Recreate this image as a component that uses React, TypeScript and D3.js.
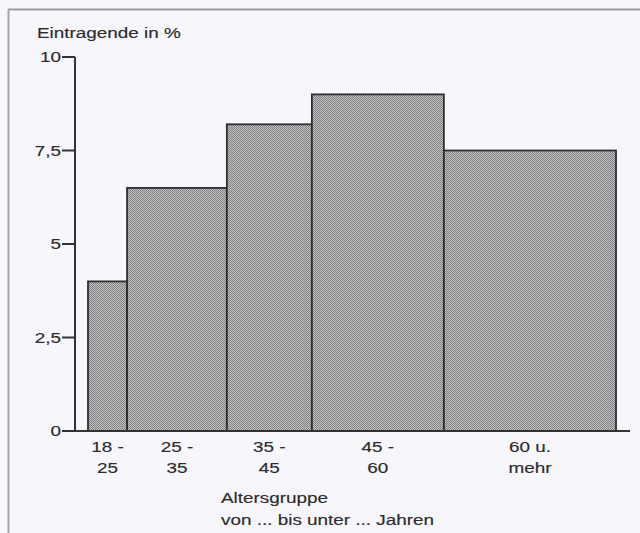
import React from "react";
import * as d3 from "d3";

const categories = ["18 -|25", "25 -|35", "35 -|45", "45 -|60", "60 u.|mehr"];
const values = [4.0, 6.5, 8.2, 9.0, 7.5];
const binWidths = [0.74, 1.89, 1.61, 2.5, 3.26];
const yTicks = [0, 2.5, 5, 7.5, 10];
const yTickLabels = ["0", "2,5", "5", "7,5", "10"];
const yTitle = "Eintragende in %";
const xTitle = ["Altersgruppe", "von ... bis unter ... Jahren"];

const W = 640;
const H = 533;
const SX = 1.26;
const FONT = "'Liberation Sans', Arial, sans-serif";
const TXT = "#2b2b2b";

function SText({ x, y, anchor = "start", children, size = 15 }: any) {
  return (
    <text
      transform={`translate(${x},${y}) scale(${SX},1)`}
      textAnchor={anchor}
      fontFamily={FONT}
      fontSize={size}
      fill={TXT}
      stroke={TXT}
      strokeWidth={0.15}
    >
      {children}
    </text>
  );
}

export default function App() {
  const edges = [0];
  binWidths.forEach((w) => edges.push(edges[edges.length - 1] + w));
  const x = d3.scaleLinear().domain([0, d3.sum(binWidths)]).range([88, 616]);
  const y = d3.scaleLinear().domain([0, 10]).range([431, 57]);
  const axisX = 75;

  return (
    <svg
      width={W}
      height={H}
      style={{ position: "absolute", left: 0, top: 0, display: "block" }}
    >
      <defs>
        <pattern id="dots" width={2} height={2} patternUnits="userSpaceOnUse">
          <rect width={2} height={2} fill="#c2c2c4" />
          <rect width={1} height={1} fill="#808082" />
          <rect x={1} y={1} width={1} height={1} fill="#808082" />
        </pattern>
      </defs>
      <rect width={W} height={H} fill="#f7f6fa" />
      <line x1={8} x2={W} y1={9.5} y2={9.5} stroke="#9d9da2" strokeWidth={2} />
      <line x1={8.5} x2={8.5} y1={9} y2={H} stroke="#a5a5aa" strokeWidth={2} />

      {values.map((v, i) => (
        <rect
          key={i}
          x={x(edges[i])}
          y={y(v)}
          width={x(edges[i + 1]) - x(edges[i])}
          height={y(0) - y(v)}
          fill="url(#dots)"
          stroke="#2e2e2e"
          strokeWidth={1.8}
        />
      ))}

      {/* y axis */}
      <line x1={axisX} x2={axisX} y1={y(10)} y2={y(0)} stroke="#333" strokeWidth={2} />
      {yTicks.map((t, i) => (
        <g key={i}>
          <line x1={axisX - 13} x2={axisX} y1={y(t)} y2={y(t)} stroke="#333" strokeWidth={2} />
          <SText x={axisX - 14} y={y(t) + 5} anchor="end">
            {yTickLabels[i]}
          </SText>
        </g>
      ))}
      {/* x axis */}
      <line x1={axisX} x2={630} y1={y(0)} y2={y(0)} stroke="#333" strokeWidth={2} />

      {categories.map((c, i) => {
        const cx = (x(edges[i]) + x(edges[i + 1])) / 2;
        const [l1, l2] = c.split("|");
        return (
          <g key={i}>
            <SText x={cx} y={452} anchor="middle">{l1}</SText>
            <SText x={cx} y={473} anchor="middle">{l2}</SText>
          </g>
        );
      })}

      <SText x={37} y={38}>{yTitle}</SText>
      <SText x={221} y={503}>{xTitle[0]}</SText>
      <SText x={221} y={525}>{xTitle[1]}</SText>
    </svg>
  );
}
